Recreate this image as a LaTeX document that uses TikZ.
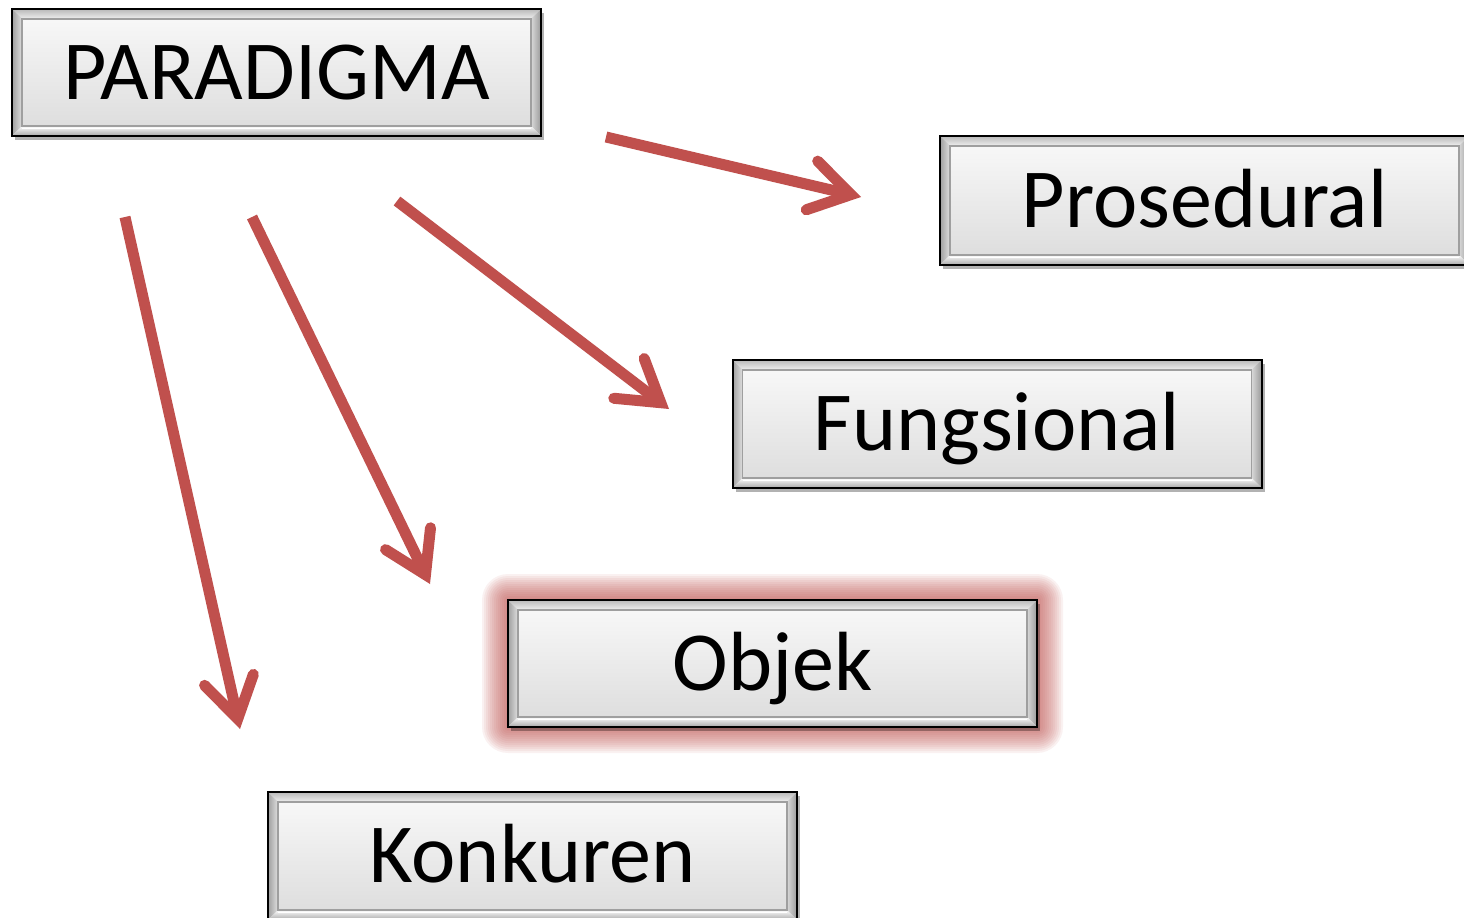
\documentclass[tikz,border=0pt]{standalone}
\usepackage{fontspec}
\setmainfont{Carlito}
\usetikzlibrary{arrows.meta,shadows,calc}
\definecolor{arr}{HTML}{C0504D}
\tikzset{
  bevelbox/.style={draw=black, line width=2pt, minimum width=529pt, minimum height=127pt,
    inner sep=0pt, text height=53pt, text depth=0pt,
    font=\fontsize{84}{84}\selectfont, text=black, fill=gray!30,
    drop shadow={shadow xshift=3pt, shadow yshift=-4pt, fill=black, opacity=0.3},
    path picture={
      \coordinate (SW) at (path picture bounding box.south west);
      \coordinate (NE) at (path picture bounding box.north east);
      \coordinate (SE) at (SW -| NE);
      \coordinate (NW) at (NE -| SW);
      \fill[top color=gray!55, bottom color=gray!12] (NW) -- (NE) -- ($(NE)+(-10pt,-10pt)$) -- ($(NW)+(10pt,-10pt)$) -- cycle;
      \fill[left color=gray!75, right color=gray!25] (NW) -- (SW) -- ($(SW)+(10pt,10pt)$) -- ($(NW)+(10pt,-10pt)$) -- cycle;
      \fill[left color=gray!30, right color=gray!80] (NE) -- (SE) -- ($(SE)+(-10pt,10pt)$) -- ($(NE)+(-10pt,-10pt)$) -- cycle;
      \fill[top color=white, bottom color=gray!70] (SW) -- (SE) -- ($(SE)+(-10pt,10pt)$) -- ($(SW)+(10pt,10pt)$) -- cycle;
      \shade[top color=gray!6, bottom color=gray!26] ($(SW)+(10pt,10pt)$) rectangle ($(NE)+(-10pt,-10pt)$);
      \draw[gray!75, line width=1.5pt] ($(SW)+(10pt,10pt)$) rectangle ($(NE)+(-10pt,-10pt)$);
      \draw[white, line width=1.5pt] ($(SW)+(10pt,7.5pt)$) -- ($(SE)+(-10pt,7.5pt)$);
    }},
  conn/.style={draw=arr, line width=11pt, line cap=butt,
    -{Straight Barb[length=40pt, width=50pt, line cap=round, line join=miter]}},
}
\begin{document}
\begin{tikzpicture}[x=1pt, y=-1pt]
\useasboundingbox (0,0) rectangle (1464,918);
\fill[white] (0,0) rectangle (1464,918);
% glow behind Objek
\foreach \r in {2,4,...,26}
  \fill[arr, opacity=0.075, rounded corners=\r pt] (508-\r,600-\r) rectangle (1037+\r,727+\r);

\node[bevelbox] (par) at (276.5,72.5) {PARADIGMA};
\node[bevelbox, minimum height=129pt] (pro) at (1204.5,200.5) {Prosedural};
\node[bevelbox, minimum height=128pt] (fun) at (997,424) {Fungsional};
\node[bevelbox] (obj) at (772.5,663.5) {Objek};
\node[bevelbox, minimum height=128pt] (kon) at (532.5,856) {Konkuren};

\coordinate (s1) at (606,137);  \coordinate (e1) at (861,197);
\coordinate (s2) at (397,201);  \coordinate (e2) at (669,409);
\coordinate (s3) at (252,217);  \coordinate (e3) at (430,584);
\coordinate (s4) at (125,217);  \coordinate (e4) at (240,729);
\draw[conn] (s1) -- (e1);
\draw[conn] (s2) -- (e2);
\draw[conn] (s3) -- (e3);
\draw[conn] (s4) -- (e4);
\end{tikzpicture}
\end{document}
